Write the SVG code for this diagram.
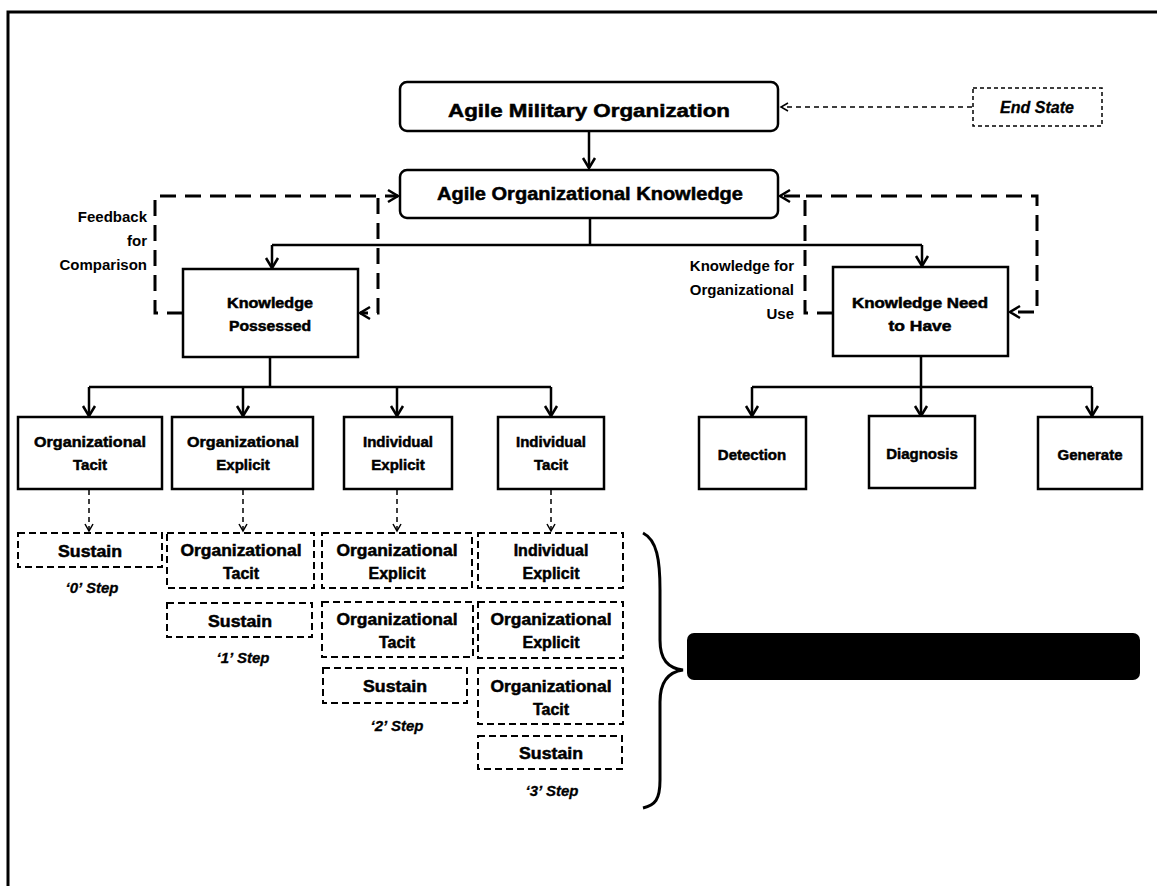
<svg xmlns="http://www.w3.org/2000/svg" width="1157" height="886" viewBox="0 0 1157 886">
<defs>
<style>
.t{font-family:"Liberation Sans",Arial,sans-serif;font-weight:bold;fill:#000;text-anchor:middle;stroke:#000;stroke-width:0.5}
.lbl{font-family:"Liberation Sans",Arial,sans-serif;font-weight:bold;fill:#000;text-anchor:end;font-size:15px}
.it{font-family:"Liberation Sans",Arial,sans-serif;font-weight:bold;font-style:italic;fill:#000;text-anchor:middle;stroke:#000;stroke-width:0.3}
.box{fill:#fff;stroke:#000;stroke-width:2.5}
.dbox{fill:#fff;stroke:#000;stroke-width:2;stroke-dasharray:7 4}
.solid{fill:none;stroke:#000;stroke-width:2.5}
.fb{fill:none;stroke:#000;stroke-width:3;stroke-dasharray:16 9}
.thin{fill:none;stroke:#000;stroke-width:1.5;stroke-dasharray:5 4}
</style>
<marker id="ah" markerWidth="16" markerHeight="16" refX="13" refY="8" orient="auto" markerUnits="userSpaceOnUse">
<path d="M3,2 L13,8 L3,14" fill="none" stroke="#000" stroke-width="2.5"/>
</marker>
<marker id="ahs" markerWidth="12" markerHeight="12" refX="10" refY="6" orient="auto" markerUnits="userSpaceOnUse">
<path d="M3,2 L10,6 L3,10" fill="none" stroke="#000" stroke-width="1.5"/>
</marker>
</defs>
<rect width="1157" height="886" fill="#fff"/>
<g id="frame">
<path d="M8,886 V12 H1157" fill="none" stroke="#000" stroke-width="3"/>
</g>
<g id="connectors">
<path class="thin" d="M972,107 H781" marker-end="url(#ahs)"/>
<path class="solid" d="M589,131 V168" marker-end="url(#ah)"/>
<path class="solid" d="M590,218 V245 M272,245 H922"/>
<path class="solid" d="M272,245 V268" marker-end="url(#ah)"/>
<path class="solid" d="M922,245 V266" marker-end="url(#ah)"/>
<path class="fb" d="M183,313 H155 V196 H398" marker-end="url(#ah)"/>
<path class="fb" d="M378,198 V313 H360" marker-end="url(#ah)"/>
<path class="fb" d="M833,313 H805 V196 H780" marker-end="url(#ah)"/>
<path class="fb" d="M806,196 H1037 V312 H1010" marker-end="url(#ah)"/>
<path class="solid" d="M270,357 V387 M89,387 H551"/>
<path class="solid" d="M89,387 V416" marker-end="url(#ah)"/>
<path class="solid" d="M243,387 V416" marker-end="url(#ah)"/>
<path class="solid" d="M397,387 V416" marker-end="url(#ah)"/>
<path class="solid" d="M551,387 V416" marker-end="url(#ah)"/>
<path class="solid" d="M921,356 V387 M752,387 H1092"/>
<path class="solid" d="M752,387 V416" marker-end="url(#ah)"/>
<path class="solid" d="M921,387 V416" marker-end="url(#ah)"/>
<path class="solid" d="M1092,387 V416" marker-end="url(#ah)"/>
<path class="thin" d="M89,490 V531" marker-end="url(#ahs)"/>
<path class="thin" d="M243,490 V531" marker-end="url(#ahs)"/>
<path class="thin" d="M397,490 V531" marker-end="url(#ahs)"/>
<path class="thin" d="M551,490 V531" marker-end="url(#ahs)"/>
</g>
<g id="n-military">
<rect class="box" x="400" y="82" width="378" height="49" rx="7"/>
<text class="t" x="589" y="117" font-size="18" textLength="282" lengthAdjust="spacingAndGlyphs">Agile Military Organization</text>
</g>
<g id="n-endstate">
<rect x="973" y="88" width="129" height="38" fill="#fff" stroke="#000" stroke-width="1.5" stroke-dasharray="4 3"/>
<text class="it" x="1037" y="113" font-size="16" font-weight="normal">End State</text>
</g>
<g id="n-orgknowledge">
<rect class="box" x="400" y="170" width="378" height="48" rx="7"/>
<text class="t" x="590" y="200" font-size="18" textLength="306" lengthAdjust="spacingAndGlyphs">Agile Organizational Knowledge</text>
</g>
<g id="lbl-feedback">
<text class="lbl" x="147" y="222">Feedback</text>
<text class="lbl" x="147" y="246">for</text>
<text class="lbl" x="147" y="270">Comparison</text>
</g>
<g id="lbl-use">
<text class="lbl" x="794" y="271">Knowledge for</text>
<text class="lbl" x="794" y="295">Organizational</text>
<text class="lbl" x="794" y="319">Use</text>
</g>
<g id="n-possessed">
<rect class="box" x="183" y="269" width="175" height="88"/>
<text class="t" x="270" y="308" font-size="14" textLength="86" lengthAdjust="spacingAndGlyphs">Knowledge</text>
<text class="t" x="270" y="331" font-size="14" textLength="82" lengthAdjust="spacingAndGlyphs">Possessed</text>
</g>
<g id="n-need">
<rect class="box" x="833" y="267" width="175" height="89"/>
<text class="t" x="920" y="308" font-size="14" textLength="136" lengthAdjust="spacingAndGlyphs">Knowledge Need</text>
<text class="t" x="920" y="331" font-size="14" textLength="63" lengthAdjust="spacingAndGlyphs">to Have</text>
</g>
<g id="n-ot">
<rect class="box" x="18" y="417" width="144" height="72"/>
<text class="t" x="90" y="447" font-size="15" textLength="112" lengthAdjust="spacingAndGlyphs">Organizational</text>
<text class="t" x="90" y="470" font-size="15">Tacit</text>
</g>
<g id="n-oe">
<rect class="box" x="172" y="417" width="141" height="72"/>
<text class="t" x="243" y="447" font-size="15" textLength="112" lengthAdjust="spacingAndGlyphs">Organizational</text>
<text class="t" x="243" y="470" font-size="15">Explicit</text>
</g>
<g id="n-ie">
<rect class="box" x="344" y="417" width="108" height="72"/>
<text class="t" x="398" y="447" font-size="15">Individual</text>
<text class="t" x="398" y="470" font-size="15">Explicit</text>
</g>
<g id="n-it">
<rect class="box" x="498" y="417" width="106" height="72"/>
<text class="t" x="551" y="447" font-size="15">Individual</text>
<text class="t" x="551" y="470" font-size="15">Tacit</text>
</g>
<g id="n-detection">
<rect class="box" x="699" y="417" width="107" height="72"/>
<text class="t" x="752" y="460" font-size="15">Detection</text>
</g>
<g id="n-diagnosis">
<rect class="box" x="869" y="416" width="106" height="72"/>
<text class="t" x="922" y="459" font-size="15">Diagnosis</text>
</g>
<g id="n-generate">
<rect class="box" x="1038" y="417" width="104" height="72"/>
<text class="t" x="1090" y="460" font-size="15">Generate</text>
</g>
<g id="step0">
<rect class="dbox" x="18" y="533" width="144" height="34"/>
<text class="t" x="90" y="557" font-size="16" textLength="64" lengthAdjust="spacingAndGlyphs">Sustain</text>
<text class="it" x="92" y="593" font-size="15">‘0’ Step</text>
</g>
<g id="step1">
<rect class="dbox" x="167" y="533" width="147" height="55"/>
<text class="t" x="241" y="556" font-size="16" textLength="121" lengthAdjust="spacingAndGlyphs">Organizational</text>
<text class="t" x="241" y="579" font-size="16">Tacit</text>
<rect class="dbox" x="167" y="603" width="145" height="34"/>
<text class="t" x="240" y="627" font-size="16" textLength="64" lengthAdjust="spacingAndGlyphs">Sustain</text>
<text class="it" x="243" y="663" font-size="15">‘1’ Step</text>
</g>
<g id="step2">
<rect class="dbox" x="322" y="533" width="150" height="55"/>
<text class="t" x="397" y="556" font-size="16" textLength="121" lengthAdjust="spacingAndGlyphs">Organizational</text>
<text class="t" x="397" y="579" font-size="16">Explicit</text>
<rect class="dbox" x="322" y="602" width="151" height="55"/>
<text class="t" x="397" y="625" font-size="16" textLength="121" lengthAdjust="spacingAndGlyphs">Organizational</text>
<text class="t" x="397" y="648" font-size="16">Tacit</text>
<rect class="dbox" x="323" y="668" width="144" height="35"/>
<text class="t" x="395" y="692" font-size="16" textLength="64" lengthAdjust="spacingAndGlyphs">Sustain</text>
<text class="it" x="397" y="731" font-size="15">‘2’ Step</text>
</g>
<g id="step3">
<rect class="dbox" x="478" y="533" width="145" height="55"/>
<text class="t" x="551" y="556" font-size="16">Individual</text>
<text class="t" x="551" y="579" font-size="16">Explicit</text>
<rect class="dbox" x="478" y="602" width="145" height="56"/>
<text class="t" x="551" y="625" font-size="16" textLength="121" lengthAdjust="spacingAndGlyphs">Organizational</text>
<text class="t" x="551" y="648" font-size="16">Explicit</text>
<rect class="dbox" x="478" y="668" width="145" height="56"/>
<text class="t" x="551" y="692" font-size="16" textLength="121" lengthAdjust="spacingAndGlyphs">Organizational</text>
<text class="t" x="551" y="715" font-size="16">Tacit</text>
<rect class="dbox" x="478" y="736" width="144" height="33"/>
<text class="t" x="551" y="759" font-size="16" textLength="64" lengthAdjust="spacingAndGlyphs">Sustain</text>
<text class="it" x="552" y="796" font-size="15">‘3’ Step</text>
</g>
<g id="brace">
<path d="M643,533 C657,540 660,560 660,590 L660,640 C660,660 668,668 683,670 C668,672 660,682 660,702 L660,780 C660,800 655,805 643,808" fill="none" stroke="#000" stroke-width="3"/>
</g>
<g id="n-bar">
<rect x="687" y="633" width="453" height="47" rx="7" fill="#000"/>
</g>
</svg>
